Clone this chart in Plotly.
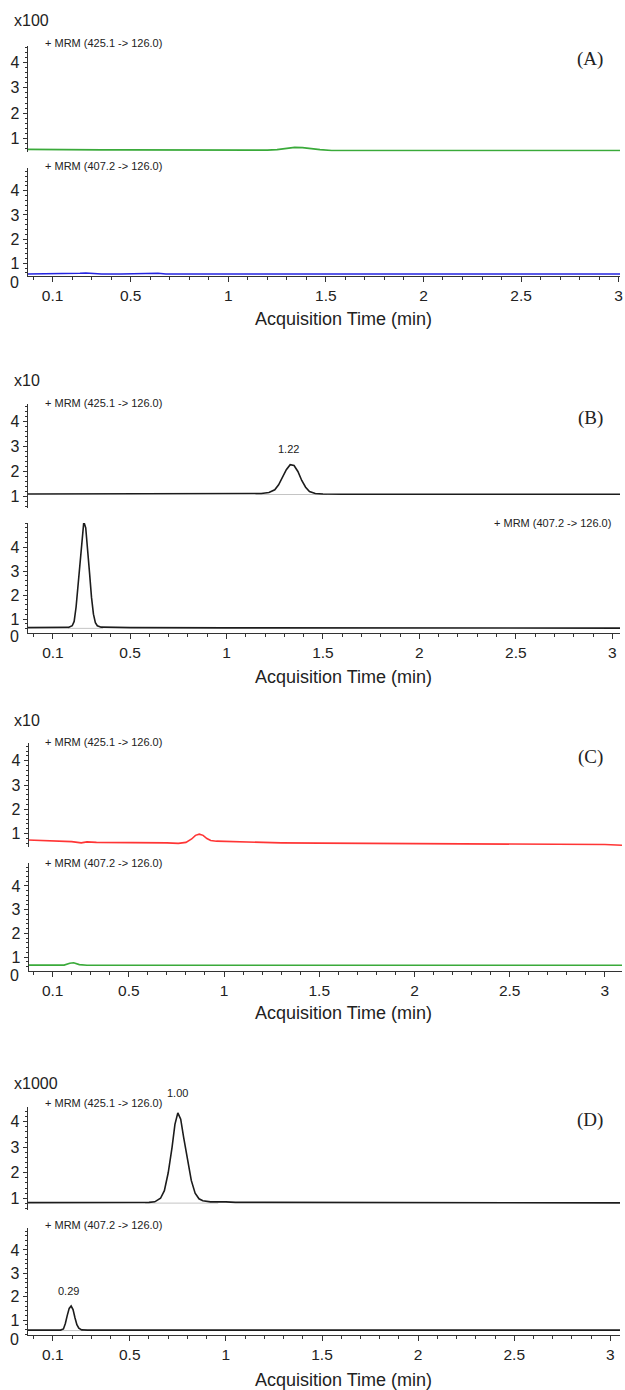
import plotly.graph_objects as go

W, H = 625, 1390

# ── data ──────────────────────────────────────────────────────────────────────
X_TICKS = [0.1, 0.5, 1, 1.5, 2, 2.5, 3]
X_TICKTEXT = ["0.1", "0.5", "1", "1.5", "2", "2.5", "3"]
Y_TICKS = [1, 2, 3, 4]

PANEL_TAGS = ["(A)", "(B)", "(C)", "(D)"]
SCALES = ["x100", "x10", "x10", "x1000"]
MRM_TOP = "+ MRM (425.1 -> 126.0)"
MRM_BOT = "+ MRM (407.2 -> 126.0)"

# (A) blank
a_top_t = [-0.03, 0.05, 0.15, 0.25, 0.30, 0.35, 0.45, 0.55, 0.65, 0.75, 0.85, 0.90, 1.0, 1.10,
           1.20, 1.25, 1.30, 1.34, 1.38, 1.42, 1.47, 1.53, 1.60, 1.80, 2.00, 2.10, 2.20, 2.40,
           2.60, 2.80, 2.95, 3.01]
a_top_y = [0.58, 0.57, 0.57, 0.56, 0.55, 0.56, 0.56, 0.56, 0.56, 0.56, 0.55, 0.56, 0.54, 0.54,
           0.55, 0.57, 0.62, 0.66, 0.65, 0.61, 0.57, 0.54, 0.54, 0.54, 0.54, 0.53, 0.54, 0.54,
           0.54, 0.54, 0.55, 0.54]
a_bot_t = [-0.03, 0.10, 0.20, 0.24, 0.27, 0.31, 0.35, 0.45, 0.52, 0.55, 0.60, 0.64, 0.68, 0.80,
           1.0, 1.5, 2.0, 2.5, 3.01]
a_bot_y = [0.56, 0.56, 0.56, 0.59, 0.60, 0.58, 0.56, 0.56, 0.57, 0.60, 0.61, 0.59, 0.56, 0.56,
           0.56, 0.56, 0.56, 0.56, 0.56]

# (B)
b_top_t = [-0.03, 0.5, 1.0, 1.10, 1.18, 1.22, 1.25, 1.27, 1.29, 1.31, 1.33, 1.35, 1.37, 1.39,
           1.41, 1.43, 1.46, 1.50, 1.60, 1.75, 2.0, 2.5, 3.04]
b_top_y = [1.08, 1.08, 1.08, 1.09, 1.10, 1.14, 1.25, 1.45, 1.75, 2.05, 2.25, 2.22, 1.98, 1.62,
           1.35, 1.18, 1.10, 1.08, 1.07, 1.08, 1.07, 1.07, 1.07]
b_bot_t = [-0.03, 0.10, 0.18, 0.20, 0.21, 0.22, 0.23, 0.24, 0.25, 0.26, 0.27, 0.28, 0.29, 0.30,
           0.31, 0.32, 0.33, 0.35, 0.50, 1.0, 1.5, 2.0, 2.5, 3.04]
b_bot_y = [0.64, 0.64, 0.65, 0.72, 0.90, 1.5, 2.4, 3.5, 4.5, 5.05, 4.8, 4.0, 2.9, 1.9,
           1.2, 0.85, 0.72, 0.66, 0.64, 0.63, 0.63, 0.62, 0.62, 0.62]
b_top_base_t, b_top_base_y = [1.15, 1.52], [1.06, 1.06]
b_bot_base_t, b_bot_base_y = [0.18, 0.36], [0.61, 0.61]

# (C)
c_top_t = [-0.03, 0.05, 0.12, 0.20, 0.25, 0.28, 0.33, 0.40, 0.50, 0.60, 0.70, 0.76, 0.80, 0.83,
           0.85, 0.87, 0.89, 0.91, 0.93, 0.96, 1.00, 1.10, 1.30, 1.50, 1.80, 2.00, 2.20, 2.50,
           2.80, 3.00, 3.09]
c_top_y = [0.74, 0.72, 0.70, 0.67, 0.62, 0.66, 0.64, 0.64, 0.62, 0.62, 0.62, 0.60, 0.64, 0.78,
           0.93, 0.98, 0.93, 0.80, 0.72, 0.69, 0.68, 0.66, 0.62, 0.61, 0.60, 0.58, 0.57, 0.56,
           0.56, 0.55, 0.52]
c_bot_t = [-0.03, 0.05, 0.12, 0.16, 0.19, 0.21, 0.24, 0.28, 0.40, 0.60, 0.80, 1.00, 1.50, 2.00,
           2.22, 2.50, 2.85, 3.09]
c_bot_y = [0.66, 0.66, 0.64, 0.66, 0.74, 0.76, 0.68, 0.65, 0.65, 0.65, 0.65, 0.65, 0.65, 0.65,
           0.63, 0.65, 0.63, 0.65]

# (D)
d_top_t = [-0.03, 0.30, 0.55, 0.60, 0.63, 0.66, 0.68, 0.70, 0.72, 0.735, 0.75, 0.765, 0.78, 0.80,
           0.82, 0.84, 0.86, 0.88, 0.92, 1.00, 1.05, 1.20, 1.50, 1.74, 1.75, 2.0, 2.5, 3.05]
d_top_y = [0.83, 0.83, 0.83, 0.84, 0.86, 1.0, 1.3, 2.0, 3.0, 3.9, 4.35, 4.1, 3.4, 2.5,
           1.7, 1.2, 0.98, 0.90, 0.86, 0.86, 0.84, 0.84, 0.84, 0.84, 0.82, 0.82, 0.82, 0.82]
d_bot_t = [-0.03, 0.10, 0.14, 0.155, 0.165, 0.175, 0.185, 0.195, 0.205, 0.215, 0.225, 0.235,
           0.25, 0.28, 0.5, 1.0, 2.0, 3.05]
d_bot_y = [0.57, 0.57, 0.57, 0.62, 0.85, 1.2, 1.5, 1.6, 1.45, 1.1, 0.8, 0.65,
           0.58, 0.57, 0.57, 0.57, 0.57, 0.57]
d_top_base_t, d_top_base_y = [0.58, 0.96], [0.81, 0.81]
d_bot_base_t, d_bot_base_y = [0.14, 0.26], [0.55, 0.55]

# peak labels: (panel, subplot, text, x, y)
PEAKS = [(1, 0, "1.22", 1.32, 2.25), (1, 1, "0.27", 0.25, 5.05),
         (3, 0, "1.00", 0.75, 4.35), (3, 1, "0.29", 0.18, 1.6)]

GREEN, BLUE, RED, BLACK = "#3aaa3a", "#2424e0", "#ff3535", "#1c1c1c"

TRACES = [
    [(a_top_t, a_top_y, GREEN, None), (a_bot_t, a_bot_y, BLUE, None)],
    [(b_top_t, b_top_y, BLACK, (b_top_base_t, b_top_base_y)),
     (b_bot_t, b_bot_y, BLACK, (b_bot_base_t, b_bot_base_y))],
    [(c_top_t, c_top_y, RED, None), (c_bot_t, c_bot_y, GREEN, None)],
    [(d_top_t, d_top_y, BLACK, (d_top_base_t, d_top_base_y)),
     (d_bot_t, d_bot_y, BLACK, (d_bot_base_t, d_bot_base_y))],
]

# ── geometry (pixels) ─────────────────────────────────────────────────────────
# per panel: x range, x px span, top/bottom subplot (px top, px bottom, ymin, ymax),
# and y of: scale label, top MRM, bottom MRM, tag, "0", axis title
GEOM = [
    dict(xr=(-0.027, 3.007), xpx=(28, 623), top=(46, 151.7, 0.49, 4.64), bot=(168, 276, 0.475, 4.94),
         scale=21, mt=43, mb=166, mb_right=False, tag=59, zero=282, title=319),
    dict(xr=(-0.03, 3.04), xpx=(28, 623), top=(404, 508, 0.52, 4.68), bot=(523, 633, 0.417, 5.0),
         scale=380, mt=403, mb=523, mb_right=True, tag=418, zero=636, title=677),
    dict(xr=(-0.025, 3.09), xpx=(29, 625), top=(743, 847, 0.45, 4.73), bot=(863, 971, 0.41, 4.97),
         scale=721, mt=742, mb=863, mb_right=False, tag=757, zero=975, title=1013),
    dict(xr=(-0.03, 3.05), xpx=(28, 623), top=(1107, 1210, 0.54, 4.58), bot=(1228, 1335, 0.36, 4.94),
         scale=1083, mt=1103, mb=1225, mb_right=False, tag=1120, zero=1339, title=1380),
]
PEAK_SHIFT = [8, 3, 12, 7]

SANS = "Liberation Sans, Arial, sans-serif"
SERIF = "Liberation Serif, Times New Roman, serif"
AXC = "#333333"


def fx(p):
    return p / W


def fy(p):
    return 1 - p / H


fig = go.Figure()
layout = {}
annotations = []

for i, g in enumerate(GEOM):
    for j, key in enumerate(["top", "bot"]):
        k = 2 * i + j + 1
        xs = "" if k == 1 else str(k)
        top_px, bot_px, y0, y1 = g[key]
        xdom = [fx(g["xpx"][0]), fx(g["xpx"][1])]
        layout[f"xaxis{xs}"] = dict(
            domain=xdom, range=list(g["xr"]), anchor=f"y{xs}",
            showgrid=False, zeroline=False,
            visible=(j == 1),
            showline=True, linecolor=AXC, linewidth=1.4,
            ticks="outside", ticklen=5, tickwidth=1.2, tickcolor=AXC,
            tickmode="array", tickvals=X_TICKS, ticktext=X_TICKTEXT,
            ticklabeloverflow="allow",
            minor=dict(tick0=0, dtick=0.1, ticks="outside", ticklen=3, tickcolor=AXC),
            tickfont=dict(family=SANS, size=15.5, color="#222"),
        )
        layout[f"yaxis{xs}"] = dict(
            domain=[fy(bot_px), fy(top_px)], range=[y0, y1], anchor=f"x{xs}",
            showgrid=False, zeroline=False,
            showline=True, linecolor=AXC, linewidth=1.4,
            ticks="outside", ticklen=4, tickwidth=1.2, tickcolor=AXC,
            tickmode="array", tickvals=Y_TICKS,
            minor=dict(tick0=0, dtick=0.2, ticks="outside", ticklen=2, tickcolor=AXC),
            tickfont=dict(family=SANS, size=16, color="#222"),
        )
        t, y, color, base = TRACES[i][j]
        if base is not None:
            fig.add_trace(go.Scatter(x=base[0], y=base[1], mode="lines",
                                     line=dict(color="#c4c4c4", width=1),
                                     xaxis=f"x{xs}", yaxis=f"y{xs}", hoverinfo="skip"))
        fig.add_trace(go.Scatter(x=t, y=y, mode="lines", line=dict(color=color, width=1.6),
                                 xaxis=f"x{xs}", yaxis=f"y{xs}"))

    # text
    annotations += [
        dict(text=SCALES[i], x=fx(12), y=fy(g["scale"]), xanchor="left", yanchor="middle",
             font=dict(family=SANS, size=16, color="#222")),
        dict(text=MRM_TOP, x=fx(43), y=fy(g["mt"]), xanchor="left", yanchor="middle",
             font=dict(family=SANS, size=11, color="#222")),
        dict(text=MRM_BOT, x=fx(616) if g["mb_right"] else fx(43), y=fy(g["mb"]),
             xanchor="right" if g["mb_right"] else "left", yanchor="middle",
             font=dict(family=SANS, size=11, color="#222")),
        dict(text=PANEL_TAGS[i], x=fx(593), y=fy(g["tag"]), xanchor="center", yanchor="middle",
             font=dict(family=SERIF, size=19, color="#222")),
        dict(text="0", x=fx(15), y=fy(g["zero"]), xanchor="center", yanchor="middle",
             font=dict(family=SANS, size=16, color="#222")),
        dict(text="Acquisition Time (min)", x=fx(345), y=fy(g["title"]), xanchor="center",
             yanchor="middle", font=dict(family=SANS, size=18, color="#222")),
    ]

for n, (pi, sj, txt, px_, py_) in enumerate(PEAKS):
    k = 2 * pi + sj + 1
    xs = "" if k == 1 else str(k)
    annotations.append(dict(text=txt, x=px_, y=py_, xref=f"x{xs}", yref=f"y{xs}",
                            xanchor="center", yanchor="bottom", yshift=PEAK_SHIFT[n],
                            font=dict(family=SANS, size=11, color="#222")))

for a in annotations:
    a.setdefault("xref", "paper")
    a.setdefault("yref", "paper")
    a["showarrow"] = False

fig.update_layout(
    **layout,
    annotations=annotations,
    width=W, height=H, autosize=False,
    margin=dict(l=0, r=0, t=0, b=0),
    paper_bgcolor="white", plot_bgcolor="white",
    showlegend=False,
)

# page body has a default 8px margin; drop it so pixel positions line up
fig.write_html("out.html", config={"displayModeBar": False},
               post_script="document.body.style.margin='0';")
